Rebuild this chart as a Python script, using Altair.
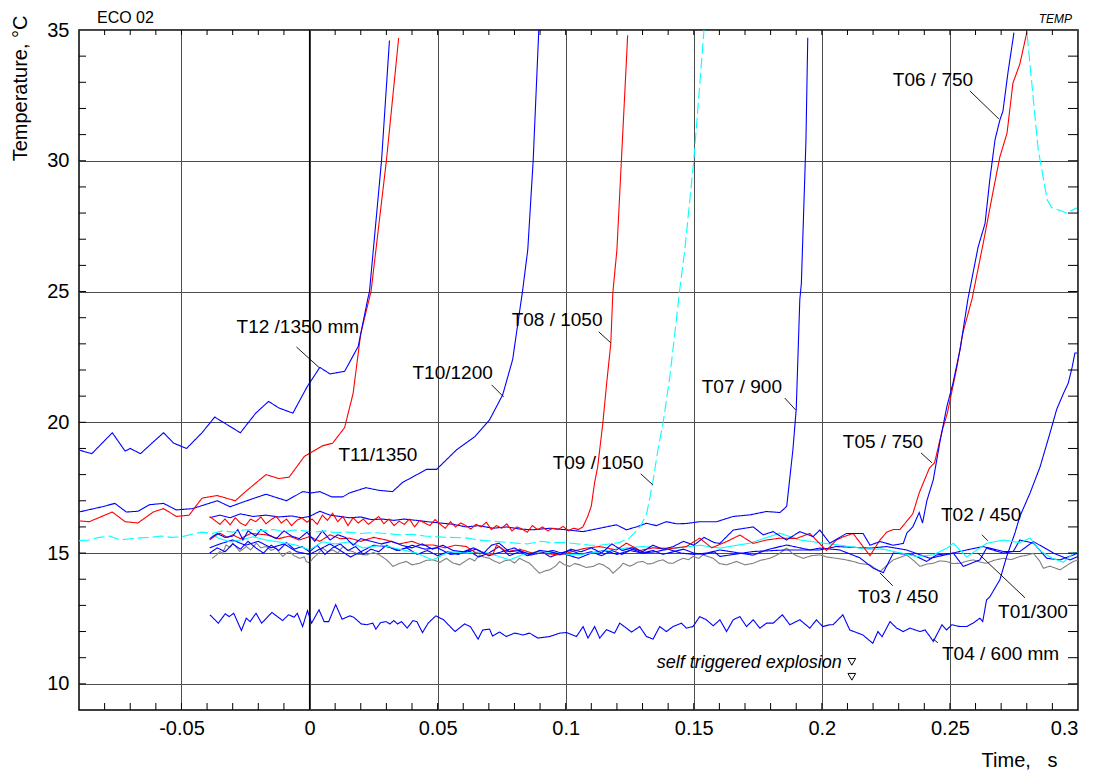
import altair as alt
import pandas as pd

FONT = "Liberation Sans"

# ---------------- series data (time in s, temperature in degC) ----------------
T12_t = [-0.09, -0.085, -0.081, -0.077, -0.072, -0.07, -0.066, -0.061, -0.057, -0.053, -0.048, -0.042, -0.037,
         -0.032, -0.027, -0.021, -0.016, -0.012, -0.0065, -0.001, 0.004, 0.008, 0.0137, 0.019, 0.0227, 0.0234,
         0.0281, 0.0312]
T12_v = [18.94, 18.8, 19.2, 19.6, 18.9, 19.0, 18.8, 19.25, 19.6, 19.2, 19.0, 19.6, 20.2,
         19.9, 19.6, 20.35, 20.8, 20.55, 20.35, 21.35, 22.1, 21.85, 21.95, 22.9, 24.7, 25.0,
         30.0, 34.6]

T11_t = [-0.09, -0.086, -0.077, -0.072, -0.067, -0.061, -0.057, -0.052, -0.047, -0.042, -0.036, -0.029, -0.025,
         -0.017, -0.012, -0.008, -0.002, 0.005, 0.009, 0.0137, 0.017, 0.020, 0.024, 0.030, 0.0348]
T11_v = [16.23, 16.2, 16.57, 16.2, 16.15, 16.57, 16.7, 16.4, 16.45, 17.1, 17.2, 17.0, 17.35,
         18.0, 17.85, 17.9, 18.7, 19.1, 19.2, 19.8, 21.1, 23.4, 25.0, 30.0, 34.7]

T10_t = [-0.09, -0.081, -0.076, -0.0715, -0.067, -0.0625, -0.057, -0.052, -0.0457, -0.036, -0.031, -0.026,
         -0.017, -0.009, -0.0027, 0.0008, 0.004, 0.0086, 0.013, 0.0156, 0.022, 0.027, 0.0324, 0.0363, 0.0457,
         0.0496, 0.0574, 0.0645, 0.0703, 0.0754, 0.0793, 0.0832, 0.0852, 0.0873, 0.0895]
T10_v = [16.57, 16.77, 16.9, 16.57, 16.6, 16.85, 16.9, 16.65, 16.7, 17.0, 16.77, 16.95,
         17.25, 17.0, 17.35, 17.3, 17.35, 17.15, 17.15, 17.3, 17.5, 17.4, 17.35, 17.7, 18.2,
         18.2, 18.95, 19.45, 20.1, 21.05, 22.4, 25.05, 26.6, 30.0, 35.0]

T08_t = [-0.039, -0.037, -0.035, -0.033, -0.031, -0.029, -0.027, -0.025, -0.023, -0.021,
         -0.019, -0.017, -0.015, -0.013, -0.011, -0.009, -0.007, -0.005, -0.003, -0.001,
         0.001, 0.003, 0.005, 0.007, 0.009, 0.011, 0.013, 0.015, 0.017, 0.019,
         0.021, 0.023, 0.025, 0.027, 0.029, 0.031, 0.033, 0.035, 0.037, 0.039,
         0.041, 0.043, 0.045, 0.047, 0.049, 0.051, 0.053, 0.055, 0.057, 0.059,
         0.061, 0.063, 0.065, 0.067, 0.069, 0.071, 0.073, 0.075, 0.077, 0.079,
         0.081, 0.083, 0.085, 0.087, 0.089, 0.091, 0.093, 0.095, 0.097, 0.099,
         0.101, 0.103, 0.105, 0.1067, 0.1086, 0.110, 0.1113, 0.1125, 0.1145, 0.116, 0.1176, 0.1184, 0.120, 0.1242]
T08_v = [16.40, 16.25, 16.10, 16.30, 16.08, 16.35, 16.15, 16.05, 16.30, 16.20,
         16.38, 16.12, 16.28, 16.40, 16.15, 16.30, 16.05, 16.25, 16.35, 16.18,
         16.30, 16.10, 16.45, 16.25, 16.52, 16.20, 16.40, 16.05, 16.35, 16.15,
         16.30, 16.10, 16.25, 16.40, 16.12, 16.30, 16.05, 16.22, 16.10, 16.30,
         16.00, 16.25, 16.15, 16.05, 16.28, 16.10, 15.95, 16.20, 16.00, 16.15,
         16.05, 15.92, 16.10, 16.00, 16.18, 15.90, 16.05, 15.95, 16.12, 15.85,
         16.00, 15.92, 15.80, 16.05, 15.90, 16.00, 15.85, 15.95, 15.90, 16.02,
         15.85, 15.95, 15.90, 16.0, 16.4, 16.8, 17.7, 18.3, 19.97, 21.5, 23.0, 24.95, 26.6, 34.8]

T09_t = [-0.09, -0.086, -0.082, -0.078, -0.074, -0.07, -0.066, -0.062, -0.058, -0.054, -0.05, -0.046, -0.042,
         -0.038, -0.034, -0.03, -0.026, -0.022, -0.018, -0.014, -0.01, -0.006, -0.002, 0.002, 0.006, 0.01,
         0.015, 0.02, 0.025, 0.03, 0.035, 0.04, 0.045, 0.05, 0.055, 0.061, 0.066, 0.072, 0.078, 0.085, 0.09,
         0.095, 0.1, 0.105, 0.11, 0.1133, 0.117, 0.121, 0.125, 0.129, 0.1316, 0.134, 0.136, 0.138, 0.1406,
         0.1426, 0.1445, 0.1465, 0.150, 0.154, 0.158, 0.276, 0.280, 0.2826, 0.2845, 0.288, 0.2898, 0.293,
         0.2957, 0.2996]
T09_v = [15.47, 15.5, 15.6, 15.65, 15.5, 15.55, 15.58, 15.6, 15.65, 15.6, 15.62, 15.72, 15.8,
         15.75, 15.85, 15.8, 15.88, 15.9, 15.85, 15.9, 15.82, 15.88, 15.85, 15.8, 15.85, 15.78,
         15.8, 15.75, 15.78, 15.75, 15.7, 15.72, 15.65, 15.62, 15.6, 15.58, 15.5, 15.45, 15.4, 15.35, 15.45,
         15.4, 15.4, 15.35, 15.3, 15.3, 15.35, 15.4, 15.58, 16.0, 16.5, 17.7, 18.95, 19.97, 21.7,
         23.4, 25.05, 26.6, 30.0, 35.0, 45.0, 45.0, 35.0, 32.3, 30.4, 28.5, 28.2, 28.1,
         28.0, 28.2]

T07_t = [-0.039, -0.035, -0.031, -0.027, -0.022, -0.017, -0.012, -0.007, -0.003, 0.0, 0.004, 0.008, 0.012,
         0.0156, 0.02, 0.024, 0.0285, 0.033, 0.037, 0.0418, 0.046, 0.051, 0.056, 0.0612, 0.066, 0.0716,
         0.077, 0.082, 0.0872, 0.0938, 0.1003, 0.1068, 0.1133, 0.1198, 0.1237, 0.1276, 0.1315, 0.1354,
         0.1393, 0.1432, 0.1471, 0.1523, 0.1589, 0.1654, 0.1719, 0.1784, 0.1836, 0.1855, 0.1863, 0.1887,
         0.190, 0.1914, 0.192, 0.1938, 0.1945]
T07_v = [16.35, 16.45, 16.35, 16.5, 16.4, 16.45, 16.38, 16.42, 16.35, 16.4, 16.6, 16.45, 16.4,
         16.35, 16.38, 16.28, 16.3, 16.25, 16.3, 16.25, 16.2, 16.15, 16.1, 16.0, 16.05, 15.95,
         16.0, 15.92, 15.89, 15.95, 15.89, 15.82, 15.95, 16.08, 15.89, 16.0, 16.14, 16.05,
         16.2, 16.12, 16.13, 16.2, 16.2, 16.4, 16.46, 16.59, 16.55, 16.71, 16.8, 18.95,
         20.5, 24.7, 25.3, 30.8, 34.7]

T06_t = [-0.039, -0.036, -0.033, -0.030, -0.028, -0.026, -0.024, -0.021, -0.019, -0.016, -0.013, -0.010,
         -0.007, -0.004, -0.001, 0.002, 0.005, 0.008, 0.011, 0.014, 0.017, 0.020, 0.024, 0.028, 0.032, 0.036,
         0.040, 0.044, 0.048, 0.052, 0.056, 0.060, 0.064, 0.068, 0.071, 0.074, 0.078, 0.082, 0.086, 0.090,
         0.094, 0.098, 0.102, 0.106, 0.110, 0.114, 0.118, 0.122, 0.126, 0.130, 0.134, 0.138, 0.142, 0.146,
         0.150, 0.154, 0.158, 0.1602, 0.1654, 0.1732, 0.1771, 0.1810, 0.1862, 0.1914, 0.1966, 0.1992,
         0.2031, 0.2096, 0.2161, 0.2188, 0.2227, 0.2279, 0.2318, 0.2332, 0.2355, 0.238, 0.2393, 0.241,
         0.2435, 0.246, 0.2488, 0.2512, 0.254, 0.257, 0.261, 0.2637, 0.2656, 0.2676, 0.2695, 0.2707,
         0.2727, 0.275]
T06_v = [15.55, 15.75, 15.6, 15.65, 15.9, 15.5, 15.85, 15.65, 15.9, 15.7, 15.55, 15.85,
         15.65, 15.55, 15.8, 15.45, 15.85, 15.5, 15.7, 15.6, 15.3, 15.55, 15.45, 15.35, 15.45, 15.3,
         15.2, 15.35, 15.15, 15.3, 15.1, 15.05, 15.2, 15.0, 15.3, 15.38, 15.05, 15.1, 14.95, 15.1,
         15.05, 14.95, 15.15, 15.05, 15.2, 15.0, 15.35, 15.1, 15.2, 15.05, 15.3, 15.15, 15.25, 15.45,
         15.3, 15.6, 15.4, 15.37, 15.88, 16.0, 15.7, 15.82, 15.5, 15.82, 15.63, 15.88,
         15.38, 15.75, 15.75, 15.3, 15.44, 15.3, 15.37, 15.77, 16.0, 16.55, 16.15, 17.0,
         17.8, 19.2, 20.6, 21.5, 22.8, 24.7, 26.7, 27.6, 29.3, 30.8, 31.56, 31.9,
         33.4, 34.9]

T05_t = [-0.039, -0.037, -0.035, -0.032, -0.030, -0.027, -0.023, -0.0169, -0.012, -0.008, -0.004, 0.0,
         0.004, 0.008, 0.012, 0.0156, 0.02, 0.025, 0.0299, 0.035, 0.04, 0.044, 0.0482, 0.053, 0.057, 0.0612,
         0.065, 0.0716, 0.073, 0.077, 0.082, 0.087, 0.0912, 0.0977, 0.1003, 0.104, 0.108, 0.1133, 0.1198,
         0.1237, 0.129, 0.1341, 0.1393, 0.1471, 0.1523, 0.157, 0.1628, 0.168, 0.1732, 0.1784, 0.1836,
         0.1901, 0.1953, 0.2018, 0.2057, 0.2083, 0.2122, 0.2188, 0.2227, 0.2253, 0.2279, 0.2305, 0.2355,
         0.238, 0.242, 0.244, 0.247, 0.249, 0.2508, 0.2527, 0.255, 0.2586, 0.263, 0.2668, 0.2695, 0.2723,
         0.2746, 0.2773, 0.280]
T05_v = [15.5, 15.65, 15.76, 15.6, 15.7, 15.55, 15.75, 15.7, 15.55, 15.65, 15.5, 15.63,
         15.45, 15.7, 15.55, 15.57, 15.45, 15.6, 15.5, 15.35, 15.45, 15.3, 15.31, 15.2, 15.3, 15.25,
         15.0, 14.95, 15.31, 15.05, 15.15, 15.0, 14.99, 14.93, 14.99, 15.1, 15.19, 15.25, 15.12,
         15.38, 15.1, 15.2, 15.15, 15.25, 15.57, 15.2, 15.44, 15.69, 15.37, 15.5, 15.57,
         15.56, 15.75, 15.1, 15.5, 15.62, 15.75, 14.9, 15.5, 15.8, 15.9, 15.9, 16.5,
         17.3, 18.25, 18.45, 19.7, 20.35, 21.2, 22.1, 23.4, 24.7, 26.85, 28.8, 30.15, 31.06,
         32.97, 33.7, 34.9]

T02_t = [-0.038, -0.035, -0.031, -0.027, -0.022, -0.017, -0.0105, -0.005, 0.0, 0.005, 0.010, 0.0156,
         0.0207, 0.0285, 0.035, 0.0418, 0.048, 0.0547, 0.061, 0.0676, 0.073, 0.0781, 0.0848, 0.0912, 0.098,
         0.1042, 0.110, 0.1172, 0.124, 0.1302, 0.137, 0.1432, 0.1523, 0.1602, 0.1719, 0.1836, 0.1914,
         0.2005, 0.2109, 0.218, 0.224, 0.231, 0.237, 0.2435, 0.249, 0.2513, 0.2565, 0.2643, 0.2708,
         0.2773, 0.2813, 0.285, 0.290, 0.2943, 0.2982, 0.3]
T02_v = [15.7, 15.55, 15.43, 15.5, 15.62, 15.5, 15.4, 15.3, 15.12, 15.43, 15.35, 15.43,
         15.2, 15.3, 15.15, 15.0, 14.74, 15.05, 15.0, 15.05, 14.9, 14.74, 15.0, 15.06, 14.98,
         14.93, 15.0, 15.12, 15.2, 15.25, 15.2, 15.19, 15.3, 15.19, 15.38, 15.76, 15.5,
         15.38, 15.25, 15.15, 15.15, 15.0, 14.87, 14.93, 15.2, 15.38, 14.85, 15.37, 15.5,
         15.4, 15.57, 15.1, 14.8, 14.65, 15.0, 15.03]

T03_t = [-0.039, -0.035, -0.03, -0.025, -0.02, -0.015, -0.01, -0.005, 0.0, 0.004, 0.008, 0.012, 0.016,
         0.02, 0.025, 0.03, 0.035, 0.04, 0.045, 0.05, 0.055, 0.06, 0.065, 0.07, 0.075, 0.08, 0.085, 0.09,
         0.095, 0.1, 0.105, 0.11, 0.115, 0.12, 0.125, 0.13, 0.135, 0.14, 0.145, 0.15, 0.155, 0.1602,
         0.1732, 0.1784, 0.1862, 0.1953, 0.1992, 0.207, 0.2148, 0.2201, 0.224, 0.2279, 0.2357, 0.2409,
         0.2448, 0.2513, 0.2552, 0.2617, 0.2643, 0.2708, 0.2747, 0.2773, 0.2826, 0.2878, 0.293, 0.2982, 0.3]
T03_v = [15.2, 15.35, 15.5, 15.3, 15.45, 15.2, 15.35, 15.05, 14.95, 15.15, 15.35, 15.1, 14.85,
         15.05, 15.3, 15.25, 15.1, 15.3, 15.15, 15.2, 14.95, 15.0, 15.15, 14.9, 15.05, 15.2, 14.9, 15.0,
         15.1, 14.95, 14.8, 15.0, 15.1, 14.95, 15.1, 15.0, 15.05, 15.15, 15.0, 14.95, 15.0, 15.12,
         14.92, 15.12, 15.31, 15.12, 15.19, 15.12, 14.82, 14.42, 14.25, 15.0, 14.93, 14.68,
         14.93, 15.0, 14.49, 14.74, 15.19, 15.0, 15.06, 15.5, 15.38, 14.8, 14.74, 14.93, 15.0]

T01_t = [-0.039, -0.036, -0.033, -0.03, -0.027, -0.024, -0.021, -0.018, -0.015, -0.012, -0.009, -0.006,
         -0.003, 0.0, 0.003, 0.006, 0.009, 0.012, 0.015, 0.018, 0.021, 0.024, 0.027, 0.03, 0.034, 0.038,
         0.042, 0.046, 0.05, 0.054, 0.058, 0.062, 0.066, 0.07, 0.074, 0.078, 0.082, 0.086, 0.09, 0.094,
         0.098, 0.102, 0.106, 0.11, 0.114, 0.118, 0.122, 0.126, 0.13, 0.134, 0.138, 0.142, 0.146, 0.15,
         0.154, 0.158, 0.1602, 0.1732, 0.1862, 0.1992, 0.2057, 0.2188, 0.2253, 0.233, 0.2422, 0.2513,
         0.2565, 0.263, 0.2708, 0.2773, 0.2826, 0.2904, 0.2969, 0.3]
T01_v = [15.0, 15.2, 15.05, 15.35, 15.15, 15.45, 15.2, 15.0, 15.3, 15.1, 15.4, 15.15,
         15.25, 15.05, 15.3, 14.95, 15.2, 15.35, 15.1, 15.25, 14.95, 15.15, 15.05, 15.3, 15.1, 15.2,
         14.95, 15.1, 14.9, 15.05, 14.95, 15.1, 14.85, 15.0, 15.25, 14.9, 15.05, 14.95, 15.1, 14.85,
         15.0, 15.1, 14.95, 15.05, 14.9, 15.1, 14.95, 15.15, 15.0, 15.1, 14.95, 15.05, 15.15, 15.0,
         14.95, 15.05, 14.87, 15.06, 15.12, 15.12, 15.25, 15.19, 15.25, 15.12, 14.8, 15.0,
         15.12, 15.25, 15.06, 15.06, 15.44, 15.0, 14.74, 14.87]

T04_t = [-0.0389, -0.0356, -0.0329, -0.0314, -0.0296, -0.0266, -0.0247, -0.0232, -0.0209, -0.0187, -0.0147,
         -0.0105, -0.0082, -0.0060, -0.0048, -0.0027, -0.0008, 0.0008, 0.0037, 0.0057, 0.0075, 0.0102,
         0.0127, 0.0157, 0.0172, 0.0202, 0.0224, 0.0247, 0.0259, 0.0277, 0.0299, 0.0314, 0.0329, 0.0344,
         0.0359, 0.0381, 0.0404, 0.0419, 0.0441, 0.0463, 0.0493, 0.0523, 0.0568, 0.0605, 0.0628, 0.0658,
         0.0676, 0.0703, 0.0714, 0.0742, 0.0768, 0.0801, 0.0833, 0.0859, 0.0892, 0.0938, 0.0977, 0.1003,
         0.1042, 0.1068, 0.1087, 0.1113, 0.1133, 0.1159, 0.1191, 0.1211, 0.1237, 0.1257, 0.1289, 0.1315,
         0.1341, 0.1367, 0.1393, 0.1419, 0.1452, 0.1471, 0.1497, 0.1523, 0.1549, 0.1576, 0.1602, 0.1628,
         0.1654, 0.1680, 0.1706, 0.1732, 0.1758, 0.1784, 0.1810, 0.1846, 0.1875, 0.1914, 0.1953, 0.1979,
         0.2003, 0.2031, 0.2044, 0.2082, 0.2109, 0.216, 0.2199, 0.2219, 0.2235, 0.2266, 0.2292, 0.2318,
         0.2344, 0.2383, 0.2403, 0.2422, 0.2435, 0.2469, 0.2487, 0.2507, 0.2539, 0.2565, 0.259, 0.2617,
         0.2628, 0.2643, 0.2656, 0.2695, 0.2721, 0.2754, 0.2773, 0.2813, 0.2852, 0.2891, 0.2917, 0.2943,
         0.2962, 0.2977, 0.2988, 0.2996]
T04_v = [12.64, 12.32, 12.68, 12.57, 12.70, 12.04, 12.51, 12.38, 12.70, 12.32, 12.73,
         12.42, 12.64, 12.55, 12.70, 12.19, 12.80, 12.32, 12.83, 12.38, 12.38, 13.03,
         12.47, 12.60, 12.55, 12.29, 12.26, 12.32, 12.09, 12.34, 12.38, 12.29, 12.42, 12.29,
         12.38, 12.13, 12.42, 12.38, 11.96, 12.32, 12.60, 12.45, 12.0, 12.29, 12.19, 11.71,
         12.06, 12.09, 11.83, 11.98, 11.81, 11.94, 11.87, 11.94, 11.75, 11.81, 11.94, 11.96,
         11.81, 12.19, 11.75, 12.19, 11.75, 12.07, 11.94, 12.32, 12.13, 11.98, 12.19, 11.81,
         11.71, 12.19, 12.0, 12.19, 12.32, 12.13, 12.19, 12.57, 12.45, 12.22, 12.45, 12.0,
         12.45, 12.57, 12.19, 12.45, 12.13, 12.32, 12.32, 12.64, 12.26, 12.45, 12.13, 12.45,
         12.19, 12.26, 12.26, 12.64, 12.06, 11.87, 11.55, 12.0, 11.8, 12.38, 12.13, 12.0,
         12.13, 12.0, 12.06, 11.81, 11.62, 12.26, 12.06, 12.26, 12.19, 12.19, 12.32, 12.51,
         12.38, 13.21, 13.33, 13.98, 14.85, 15.77, 16.4, 17.3, 18.3, 19.6, 20.5, 21.1,
         21.5, 22.1, 22.65, 22.65]

GRAY_t = [-0.038, -0.036, -0.035, -0.034, -0.0326, -0.031, -0.030, -0.029, -0.0273, -0.026, -0.0247, -0.023,
          -0.0208, -0.019, -0.0169, -0.015, -0.013, -0.012, -0.0104, -0.009, -0.0078, -0.006, -0.0039, -0.002,
          -0.0013, 0.0, 0.0013, 0.003, 0.0052, 0.007, 0.0091, 0.011, 0.013, 0.015, 0.0169, 0.019, 0.0221,
          0.025, 0.0273, 0.030, 0.0326, 0.035, 0.0378, 0.040, 0.043, 0.0455, 0.0482, 0.051, 0.0534, 0.056,
          0.0586, 0.0625, 0.0645, 0.0664, 0.068, 0.0703, 0.072, 0.0742, 0.076, 0.0781, 0.080, 0.082, 0.084,
          0.0859, 0.088, 0.0898, 0.092, 0.0938, 0.096, 0.0977, 0.0995, 0.1016, 0.1035, 0.1055, 0.108, 0.1107,
          0.113, 0.1146, 0.117, 0.1185, 0.121, 0.1224, 0.125, 0.1263, 0.128, 0.1302, 0.132, 0.1341, 0.136,
          0.138, 0.140, 0.1419, 0.144, 0.1458, 0.148, 0.1497, 0.152, 0.1536, 0.156, 0.1576, 0.160, 0.1628,
          0.1667, 0.170, 0.1732, 0.176, 0.1797, 0.183, 0.1862, 0.189, 0.1927, 0.196, 0.1992, 0.202, 0.2057,
          0.209, 0.2122, 0.215, 0.2188, 0.221, 0.2227, 0.225, 0.2279, 0.231, 0.2331, 0.236, 0.2383, 0.241,
          0.2435, 0.246, 0.2487, 0.251, 0.2539, 0.257, 0.2591, 0.262, 0.2643, 0.267, 0.2708, 0.274, 0.2773,
          0.280, 0.2826, 0.285, 0.2865, 0.289, 0.293, 0.296, 0.2982, 0.300]
GRAY_v = [14.80, 14.95, 15.06, 14.98, 15.31, 15.22, 15.38, 15.28, 15.06, 15.15, 15.25, 15.12,
          15.38, 15.2, 15.25, 15.1, 15.19, 15.05, 14.87, 15.0, 15.06, 14.9, 14.80, 14.85,
          14.68, 14.62, 14.80, 14.95, 15.19, 15.05, 15.12, 15.0, 15.25, 15.1, 15.06, 14.95, 14.93,
          15.02, 14.93, 14.75, 14.49, 14.6, 14.68, 14.55, 14.61, 14.72, 14.74, 14.65, 14.80, 14.62,
          14.55, 14.80, 14.7, 14.93, 14.85, 14.80, 14.7, 14.61, 14.7, 14.74, 14.62, 14.80, 14.7,
          14.61, 14.4, 14.23, 14.32, 14.36, 14.5, 14.68, 14.55, 14.49, 14.6, 14.55, 14.45, 14.49,
          14.6, 14.55, 14.4, 14.23, 14.45, 14.61, 14.5, 14.55, 14.65, 14.68, 14.58, 14.61, 14.7,
          14.74, 14.62, 14.61, 14.72, 14.80, 14.75, 14.87, 14.8, 14.93, 14.85, 14.80, 14.6, 14.55,
          14.68, 14.55, 14.61, 14.72, 14.80, 14.95, 15.19, 14.95, 14.80, 14.9, 14.93, 14.85, 14.80,
          14.75, 14.68, 14.6, 14.55, 14.4, 14.29, 14.5, 14.74, 14.85, 14.93, 14.7, 14.49, 14.58,
          14.61, 14.7, 14.68, 14.6, 14.61, 14.7, 14.74, 14.65, 14.61, 14.72, 14.80, 14.75, 14.87,
          14.92, 14.99, 14.7, 14.42, 14.5, 14.36, 14.55, 14.68, 14.74]

series_names = ["GRAY", "T04", "T01", "T03", "T02", "T05", "T06", "T07", "T09", "T08", "T10", "T11", "T12"]
series_colors = ["#808080", "#0000ff", "#0000ff", "#0000ff", "#00ffff", "#ff0000", "#0000ff", "#0000ff",
                 "#00ffff", "#ff0000", "#0000ff", "#ff0000", "#0000ff"]
series_dashes = [[1, 0], [1, 0], [1, 0], [1, 0], [1, 0], [1, 0], [1, 0], [1, 0],
                 [11, 4], [1, 0], [1, 0], [1, 0], [1, 0]]
series_data = {
    "GRAY": (GRAY_t, GRAY_v), "T04": (T04_t, T04_v), "T01": (T01_t, T01_v), "T03": (T03_t, T03_v),
    "T02": (T02_t, T02_v), "T05": (T05_t, T05_v), "T06": (T06_t, T06_v), "T07": (T07_t, T07_v),
    "T09": (T09_t, T09_v), "T08": (T08_t, T08_v), "T10": (T10_t, T10_v), "T11": (T11_t, T11_v),
    "T12": (T12_t, T12_v),
}

# ---------------- annotations ----------------
label_text = ["T12 /1350 mm", "T11/1350", "T10/1200", "T08 / 1050", "T09 / 1050", "T07 / 900",
              "T06 / 750", "T05 / 750", "T02 / 450", "T03 / 450", "T01/300", "T04 / 600 mm"]
label_t = [-0.0285, 0.0113, 0.0402, 0.0789, 0.0949, 0.1531, 0.2277, 0.2082, 0.2465, 0.2141, 0.2688, 0.2469]
label_v = [23.65, 18.75, 21.89, 23.91, 18.45, 21.35, 33.09, 19.25, 16.46, 13.33, 12.75, 11.15]

leader_t1 = [-0.0051, 0.0711, 0.1129, 0.1293, 0.1855, 0.2578, 0.2387, 0.2625, 0.2227, 0.2609, 0.2434]
leader_v1 = [22.88, 21.43, 23.46, 18.03, 20.93, 32.67, 18.83, 15.70, 14.24, 15.00, 11.72]
leader_t2 = [0.0039, 0.0758, 0.1176, 0.1340, 0.1898, 0.2691, 0.2430, 0.2648, 0.2277, 0.2793, 0.2453]
leader_v2 = [22.08, 20.97, 23.04, 17.61, 20.47, 31.60, 18.45, 15.47, 13.75, 13.29, 11.57]

explosion_text = "self triggered explosion"
explosion_t = 0.1355
explosion_v = 10.8
marker_t = [0.2117, 0.2117]
marker_v = [10.84, 10.27]

x_major = [-0.05, 0, 0.05, 0.1, 0.15, 0.2, 0.25, 0.3]
y_major = [10, 15, 20, 25, 30, 35]
x_minor = [-0.08, -0.07, -0.06, -0.05, -0.04, -0.03, -0.02, -0.01, 0.0, 0.01, 0.02, 0.03, 0.04, 0.05,
           0.06, 0.07, 0.08, 0.09, 0.1, 0.11, 0.12, 0.13, 0.14, 0.15, 0.16, 0.17, 0.18, 0.19, 0.2,
           0.21, 0.22, 0.23, 0.24, 0.25, 0.26, 0.27, 0.28, 0.29]
y_minor = [10, 11, 12, 13, 14, 15, 16, 17, 18, 19, 20, 21, 22, 23, 24, 25, 26, 27, 28, 29, 30,
           31, 32, 33, 34]

# ---------------- build tables ----------------
rows = []
for name in series_names:
    ts, vs = series_data[name]
    assert len(ts) == len(vs), (name, len(ts), len(vs))
    for i, (t, v) in enumerate(zip(ts, vs)):
        rows.append({"series": name, "t": t, "v": v, "i": i})
df = pd.DataFrame(rows)

labels_df = pd.DataFrame({"t": label_t, "v": label_v, "text": label_text})
leaders_df = pd.DataFrame({"t": leader_t1, "v": leader_v1, "t2": leader_t2, "v2": leader_v2})
markers_df = pd.DataFrame({"t": marker_t, "v": marker_v})
expl_df = pd.DataFrame({"t": [explosion_t], "v": [explosion_v], "text": [explosion_text]})

W, H = 999, 680
xscale = alt.Scale(domain=[-0.09, 0.3], nice=False, zero=False)
yscale = alt.Scale(domain=[9, 35], nice=False, zero=False)

x_axis = alt.Axis(values=x_major, format="~g", labelExpr="replace(datum.label, '\u2212', '-')",
                  grid=True, gridColor="#4d4d4d", gridWidth=1,
                  ticks=False, domain=False, labelFont=FONT, labelFontSize=20, labelColor="black",
                  labelPadding=8, title="Time,\u00a0\u00a0\u00a0s", titleFont=FONT, titleFontSize=20,
                  titleFontWeight="normal", titleColor="black", titleX=978, titleY=50,
                  titleAlign="right", titleBaseline="middle", titleAngle=0)
y_axis = alt.Axis(values=y_major, grid=True, gridColor="#4d4d4d", gridWidth=1,
                  ticks=False, domain=False, labelFont=FONT, labelFontSize=20, labelColor="black",
                  labelPadding=10, title="Temperature, \u00b0C", titleFont=FONT, titleFontSize=20,
                  titleFontWeight="normal", titleColor="black", titleX=-59, titleY=-15,
                  titleAlign="right", titleBaseline="middle", titleAngle=270)

X = alt.X("t:Q", scale=xscale, axis=x_axis)
Y = alt.Y("v:Q", scale=yscale, axis=y_axis)

lines = alt.Chart(df).mark_line(clip=True, strokeWidth=1.1).encode(
    x=X, y=Y,
    color=alt.Color("series:N", scale=alt.Scale(domain=series_names, range=series_colors), legend=None),
    strokeDash=alt.StrokeDash("series:N", scale=alt.Scale(domain=series_names, range=series_dashes),
                              legend=None),
    detail="series:N",
    order="i:Q",
)

zero_line = alt.Chart(pd.DataFrame({"t": [0.0]})).mark_rule(color="black", strokeWidth=1.2).encode(
    x=X, y=alt.value(0), y2=alt.value(H))

xt_top = alt.Chart(pd.DataFrame({"t": x_minor})).mark_rule(color="black", strokeWidth=1).encode(
    x=X, y=alt.value(0), y2=alt.value(5))
xt_bot = alt.Chart(pd.DataFrame({"t": x_minor})).mark_rule(color="black", strokeWidth=1).encode(
    x=X, y=alt.value(H - 7), y2=alt.value(H))
yt_left = alt.Chart(pd.DataFrame({"v": y_minor})).mark_rule(color="black", strokeWidth=1).encode(
    y=Y, x=alt.value(0), x2=alt.value(7))
yt_right = alt.Chart(pd.DataFrame({"v": y_minor})).mark_rule(color="black", strokeWidth=1).encode(
    y=Y, x=alt.value(W - 10), x2=alt.value(W))

leaders = alt.Chart(leaders_df).mark_rule(color="black", strokeWidth=0.9).encode(
    x=X, y=Y, x2="t2:Q", y2="v2:Q")

labels = alt.Chart(labels_df).mark_text(align="left", baseline="middle", font=FONT, fontSize=19,
                                        color="black").encode(x=X, y=Y, text="text:N")

expl = alt.Chart(expl_df).mark_text(align="left", baseline="middle", font=FONT, fontSize=18,
                                    fontStyle="italic", color="black").encode(x=X, y=Y, text="text:N")

markers = alt.Chart(markers_df).mark_point(shape="triangle-down", filled=False, color="black",
                                           size=60, strokeWidth=1, opacity=1).encode(x=X, y=Y)

header_df = pd.DataFrame({"a": [0]})
eco = alt.Chart(header_df).mark_text(text="ECO 02", align="left", baseline="middle", font=FONT,
                                     fontSize=16, color="black").encode(x=alt.value(18), y=alt.value(-12))
temp = alt.Chart(header_df).mark_text(text="TEMP", align="right", baseline="middle", font=FONT,
                                      fontSize=12, fontStyle="italic", color="black").encode(
    x=alt.value(993), y=alt.value(-11))

chart = alt.layer(lines, zero_line, xt_top, xt_bot, yt_left, yt_right, leaders, labels, expl, markers,
                  eco, temp).properties(
    width=W, height=H,
    autosize=alt.AutoSizeParams(type="none"),
    padding={"left": 79, "top": 30, "right": 20, "bottom": 65},
    background="white",
).configure_view(stroke="black", strokeWidth=1.5)

chart.save("out.html", embed_options={"renderer": "svg", "actions": False})
